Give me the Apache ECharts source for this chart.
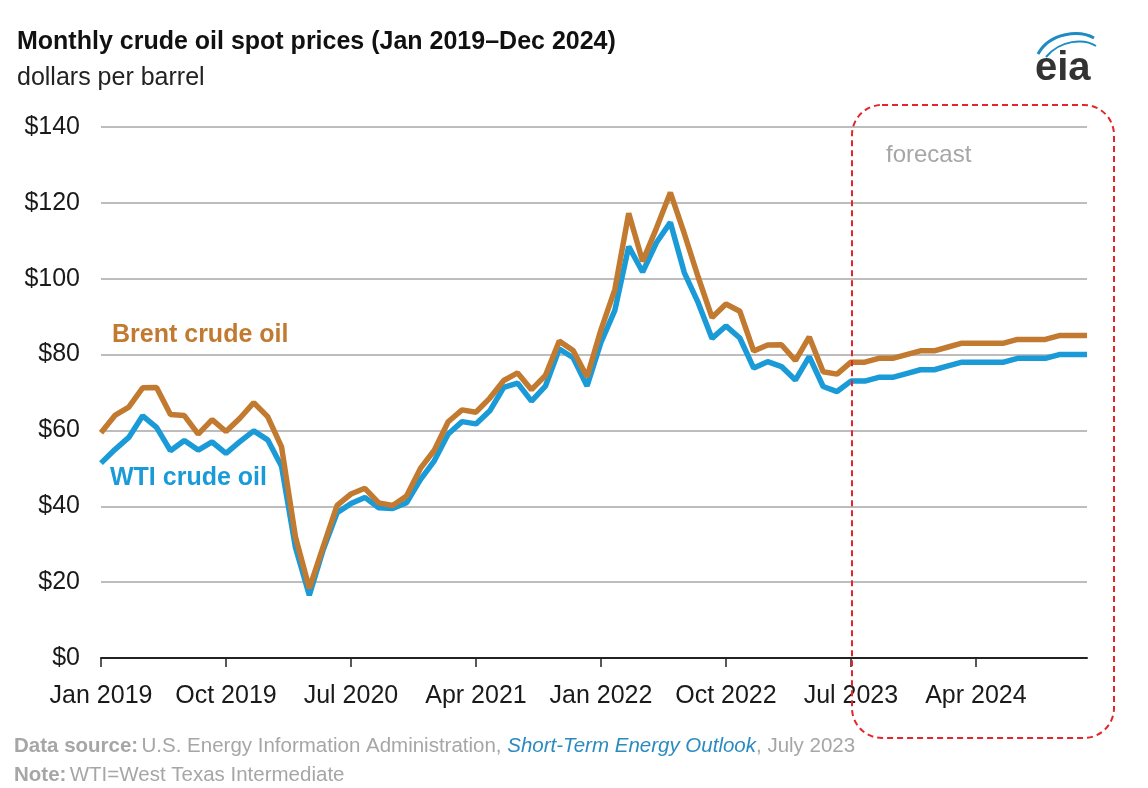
<!DOCTYPE html>
<html>
<head>
<meta charset="utf-8">
<script src="https://cdn.jsdelivr.net/npm/echarts@6/dist/echarts.min.js"></script>
<style>
html,body{margin:0;padding:0;background:#fff;}
#c{width:1148px;height:788px;}
</style>
</head>
<body>
<div id="c"></div>
<script>
var monthNames = ['Jan','Feb','Mar','Apr','May','Jun','Jul','Aug','Sep','Oct','Nov','Dec'];
var years = [2019, 2020, 2021, 2022, 2023, 2024];
var categories = [];
years.forEach(function(y){ monthNames.forEach(function(m){ categories.push(m + ' ' + y); }); });

var yTicks = [0, 20, 40, 60, 80, 100, 120, 140];

var brent = [
  59.41, 63.96, 66.14, 71.23, 71.32, 64.22, 63.92, 59.04, 62.83, 59.71, 63.21, 67.31,
  63.65, 55.66, 32.01, 18.38, 29.38, 40.27, 43.24, 44.74, 40.91, 40.19, 42.69, 49.99,
  54.77, 62.28, 65.41, 64.81, 68.53, 73.16, 75.17, 70.75, 74.49, 83.54, 81.05, 74.17,
  86.51, 97.13, 117.25, 104.58, 113.34, 122.71, 111.93, 100.45, 89.76, 93.33, 91.42, 80.92,
  82.50, 82.59, 78.43, 84.64, 75.47, 74.84, 78, 78, 79, 79, 80, 81,
  81, 82, 83, 83, 83, 83, 84, 84, 84, 85, 85, 85
];
var wti = [
  51.38, 54.95, 58.15, 63.86, 60.83, 54.66, 57.35, 54.81, 56.95, 53.96, 57.03, 59.88,
  57.52, 50.54, 29.21, 16.55, 28.56, 38.31, 40.71, 42.34, 39.63, 39.40, 40.94, 47.02,
  52.00, 59.04, 62.33, 61.72, 65.17, 71.38, 72.49, 67.73, 71.65, 81.48, 79.15, 71.71,
  83.22, 91.64, 108.50, 101.78, 109.55, 114.84, 101.62, 93.67, 84.26, 87.55, 84.37, 76.44,
  78.12, 76.83, 73.28, 79.45, 71.58, 70.25, 73, 73, 74, 74, 75, 76,
  76, 77, 78, 78, 78, 78, 79, 79, 79, 80, 80, 80
];

var FONT = 'Liberation Sans, Arial, sans-serif';
var chart = echarts.init(document.getElementById('c'));
var option = {
  backgroundColor: '#ffffff',
  animation: false,
  grid: {left: 101, right: 61, top: 127, bottom: 130, containLabel: false},
  xAxis: {
    type: 'category',
    data: categories,
    boundaryGap: false,
    axisLine: {show: true, lineStyle: {color: '#222', width: 2}},
    axisTick: {show: true, interval: 8, length: 9, lineStyle: {color: '#222', width: 1.5}},
    axisLabel: {interval: 8, color: '#1a1a1a', fontSize: 25, fontFamily: FONT, margin: 26, hideOverlap: false},
    splitLine: {show: false}
  },
  yAxis: {
    type: 'value',
    min: yTicks[0], max: yTicks[yTicks.length - 1], interval: 20,
    axisLine: {show: false},
    axisTick: {show: false},
    axisLabel: {color: '#1a1a1a', fontSize: 25, fontFamily: FONT, margin: 21, formatter: function(v){ return '$' + v; }},
    splitLine: {show: true, lineStyle: {color: '#BDBDBD', width: 2}}
  },
  series: [
    {name: 'WTI crude oil', type: 'line', data: wti, symbol: 'none', lineStyle: {color: '#1A9AD7', width: 5.5}, z: 2},
    {name: 'Brent crude oil', type: 'line', data: brent, symbol: 'none', lineStyle: {color: '#C27A30', width: 5.5}, z: 3}
  ],
  graphic: [
    {type: 'text', left: 17, top: 30, style: {text: 'Monthly crude oil spot prices (Jan 2019\u2013Dec 2024)', font: 'bold 25px ' + FONT, fill: '#111'}},
    {type: 'text', left: 17, top: 66, style: {text: 'dollars per barrel', font: '25px ' + FONT, fill: '#222'}},
    {type: 'text', left: 112, top: 323, style: {text: 'Brent crude oil', font: 'bold 25px ' + FONT, fill: '#C27A30'}},
    {type: 'text', left: 110, top: 466, style: {text: 'WTI crude oil', font: 'bold 25px ' + FONT, fill: '#1A9AD7'}},
    {type: 'text', left: 886, top: 143, style: {text: 'forecast', font: '24px ' + FONT, fill: '#A6A6A6'}},
    {type: 'rect', shape: {x: 852, y: 105, width: 262, height: 633, r: 30}, style: {fill: 'none', stroke: '#E3262B', lineWidth: 2, lineDash: [6, 4]}, z: 10},
    {type: 'text', left: 1035, top: 49, style: {text: 'eia', font: 'bold 40px ' + FONT, fill: '#333'}},
    {type: 'bezierCurve', shape: {x1: 1038, y1: 54, x2: 1094, y2: 38, cpx1: 1050, cpy1: 32, cpx2: 1080, cpy2: 30}, style: {stroke: '#1E8BC3', lineWidth: 3, fill: 'none'}},
    {type: 'bezierCurve', shape: {x1: 1046, y1: 57, x2: 1096, y2: 46, cpx1: 1060, cpy1: 40, cpx2: 1084, cpy2: 38}, style: {stroke: '#1E8BC3', lineWidth: 2, fill: 'none'}},
    {type: 'text', left: 14, top: 736, style: {
      text: '{b|Data source:} {g|U.S. Energy Information Administration, }{i|Short-Term Energy Outlook}{g|, July 2023}',
      fill: '#A6A6A6',
      rich: {
        b: {font: 'bold 20.5px ' + FONT, fill: '#A6A6A6'},
        g: {font: '20.5px ' + FONT, fill: '#A6A6A6'},
        i: {font: 'italic 20.5px ' + FONT, fill: '#2A8BC0'}
      }
    }},
    {type: 'text', left: 14, top: 765, style: {
      text: '{b|Note:} {g|WTI=West Texas Intermediate}',
      fill: '#A6A6A6',
      rich: {
        b: {font: 'bold 20.5px ' + FONT, fill: '#A6A6A6'},
        g: {font: '20.5px ' + FONT, fill: '#A6A6A6'}
      }
    }}
  ]
};
chart.setOption(option);
</script>
</body>
</html>
